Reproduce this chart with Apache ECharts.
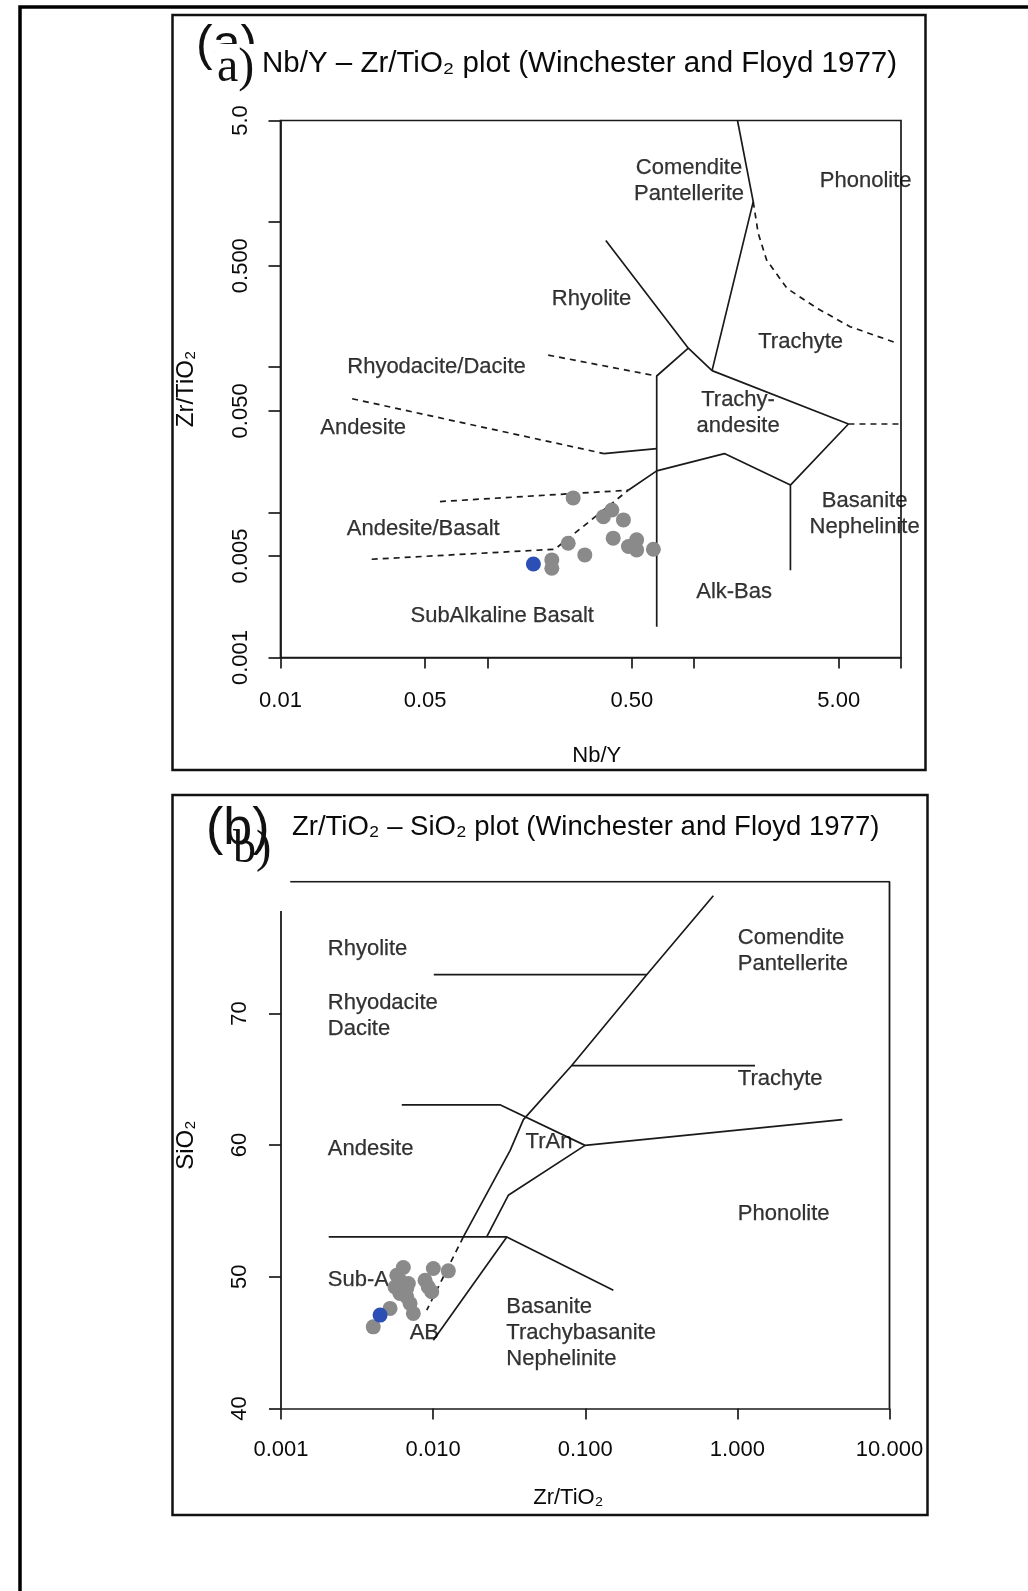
<!DOCTYPE html>
<html><head><meta charset="utf-8">
<script src="https://cdn.jsdelivr.net/npm/echarts@6/dist/echarts.min.js"></script>
<style>html,body{margin:0;padding:0;background:#fff}#c{width:1028px;height:1591px}</style>
</head><body><div id="c"></div><script>
// ---------- Panel (a): Nb/Y vs Zr/TiO2 ----------
const aSampleNbY  = [0.260, 0.364, 0.400, 0.455, 0.406, 0.481, 0.527, 0.527, 0.635, 0.246, 0.296, 0.205, 0.205];
const aSampleZrTi = [0.01257, 0.00933, 0.01038, 0.00887, 0.00664, 0.00581, 0.00646, 0.00551, 0.00557, 0.00613, 0.00509, 0.00470, 0.00412];
const aHighlightNbY  = [0.167];
const aHighlightZrTi = [0.00441];

const aSolidLines = [
  [[1.62, 5], [1.93, 1.38], [1.22, 0.0946]],
  [[0.374, 0.746], [0.937, 0.135], [1.22, 0.0946]],
  [[1.22, 0.0946], [5.57, 0.0406], [2.92, 0.0154], [2.92, 0.00399]],
  [[0.937, 0.135], [0.659, 0.0869], [0.659, 0.00163]],
  [[0.480, 0.0142], [0.659, 0.0193], [1.40, 0.0254], [2.92, 0.0154]],
  [[0.366, 0.0254], [0.659, 0.0275]]
];
const aDashedLines = [
  [[1.93, 1.38], [2.04, 0.836], [2.24, 0.547], [2.81, 0.349], [3.92, 0.255], [5.67, 0.190], [9.36, 0.148]],
  [[5.57, 0.0406], [10, 0.0406]],
  [[0.197, 0.121], [0.659, 0.0869]],
  [[0.0222, 0.0606], [0.366, 0.0254]],
  [[0.0590, 0.01186], [0.480, 0.0142]],
  [[0.0276, 0.00475], [0.212, 0.00557], [0.480, 0.0142]]
];
const aFieldLabels = [
  ['Comendite\nPantellerite', 0.944, 1.93],
  ['Phonolite', 6.75, 1.93],
  ['Rhyolite', 0.319, 0.293],
  ['Trachyte', 3.27, 0.149],
  ['Rhyodacite/Dacite', 0.0568, 0.0997],
  ['Andesite', 0.0251, 0.0380],
  ['Trachy-\nandesite', 1.63, 0.0484],
  ['Basanite\nNephelinite', 6.67, 0.00968],
  ['Andesite/Basalt', 0.0490, 0.00773],
  ['Alk-Bas', 1.56, 0.00285],
  ['SubAlkaline Basalt', 0.118, 0.00193]
];
const aXTickValues  = [0.01, 0.05, 0.1, 0.5, 1, 5, 10];
const aXLabelValues = [0.01, 0.05, 0.5, 5];
const aXLabelText   = ['0.01', '0.05', '0.50', '5.00'];
const aYTickValues  = [0.001, 0.005, 0.01, 0.05, 0.1, 0.5, 1, 5];
const aYLabelValues = [0.001, 0.005, 0.05, 0.5, 5];
const aYLabelText   = ['0.001', '0.005', '0.050', '0.500', '5.0'];

// ---------- Panel (b): Zr/TiO2 vs SiO2 ----------
const bSampleZrTi = [0.00637, 0.00577, 0.00605, 0.00687, 0.00562, 0.00670, 0.00605, 0.00670, 0.00705, 0.00741, 0.00521, 0.00404, 0.01003, 0.01259, 0.00885, 0.00929, 0.00979];
const bSampleSiO2 = [50.71, 50.12, 49.74, 49.49, 49.23, 49.11, 48.73, 48.48, 47.98, 47.22, 47.60, 46.20, 50.63, 50.45, 49.74, 49.23, 48.86];
const bHighlightZrTi = [0.00448];
const bHighlightSiO2 = [47.09];

const bSolidLines = [
  [[0.695, 78.93], [0.2535, 72.94], [0.0815, 66.04], [0.0392, 61.93], [0.0321, 59.60], [0.0158, 53.03]],
  [[0.0101, 72.94], [0.2535, 72.94]],
  [[0.0815, 66.04], [1.306, 66.04]],
  [[0.00622, 63.06], [0.0275, 63.06], [0.0997, 59.98], [4.90, 61.93]],
  [[0.0997, 59.98], [0.0312, 56.19], [0.0225, 53.03]],
  [[0.00206, 53.03], [0.0305, 53.03], [0.153, 48.98]],
  [[0.0305, 53.03], [0.01003, 45.19]]
];
const bDashedLines = [
  [[0.0158, 53.03], [0.00908, 47.47]]
];
const bFrameLines = [
  [[0.00115, 80], [10, 80], [10, 40]],
  [[0.001, 40], [0.001, 77.77]]
];
const bFieldLabels = [
  ['Rhyolite', 0.00203, 74.93, 'left'],
  ['Rhyodacite\nDacite', 0.00203, 69.77, 'left'],
  ['Andesite', 0.00203, 59.69, 'left'],
  ['Sub-A', 0.00203, 49.77, 'left'],
  ['Comendite\nPantellerite', 1.007, 74.78, 'left'],
  ['Trachyte', 1.007, 65.0, 'left'],
  ['Phonolite', 1.007, 54.77, 'left'],
  ['Basanite\nTrachybasanite\nNephelinite', 0.0303, 45.77, 'left'],
  ['AB', 0.00875, 45.77, 'center'],
  ['TrAn', 0.0578, 60.24, 'center']
];
const bXTickValues = [0.001, 0.01, 0.1, 1, 10];
const bXLabelText  = ['0.001', '0.010', '0.100', '1.000', '10.000'];
const bYTickValues = [40, 50, 60, 70];
const bYLabelText  = ['40', '50', '60', '70'];

// ---------- build ----------
const L = Math.log10;
const FONT = '"Liberation Sans", Arial, Helvetica, sans-serif';
const INK = '#1a1a1a';
const TXT = '#0a0a0a';

function fmtLog(values, texts) {
  return v => { const i = values.findIndex(t => Math.abs(L(t) - v) < 1e-6); return i >= 0 ? texts[i] : ''; };
}
function fmtLin(values, texts) {
  return v => { const i = values.findIndex(t => Math.abs(t - v) < 1e-6); return i >= 0 ? texts[i] : ''; };
}
function tr(p, logY) { return [L(p[0]), logY ? L(p[1]) : p[1]]; }
function lineSeries(pts, idx, dashed, logY, w) {
  return { type: 'line', xAxisIndex: idx, yAxisIndex: idx, data: pts.map(p => tr(p, logY)),
    symbol: 'none', silent: true, z: 2,
    lineStyle: { color: INK, width: w || 1.7, type: dashed ? [6, 5] : 'solid' } };
}
function labelSeries(items, idx, logY) {
  return { type: 'scatter', xAxisIndex: idx, yAxisIndex: idx, symbolSize: 0, silent: true, z: 3,
    itemStyle: { color: 'transparent' },
    data: items.map(it => ({ value: tr([it[1], it[2]], logY), name: it[0],
      label: { position: it[3] === 'left' ? 'right' : 'inside', distance: 0 } })),
    label: { show: true, formatter: p => p.name, color: '#000', fontSize: 22, fontFamily: FONT, lineHeight: 26,
      textBorderColor: '#000', textBorderWidth: 0.25 } };
}
function pointSeries(xs, ys, idx, logY, color, z) {
  return { type: 'scatter', xAxisIndex: idx, yAxisIndex: idx, symbolSize: 15, silent: true, z: z,
    itemStyle: { color: color, opacity: 1 }, data: xs.map((x, i) => tr([x, ys[i]], logY)) };
}
const tickStyle = { color: INK, width: 1.7 };
const labelStyle = { fontSize: 22, color: TXT, fontFamily: FONT };

const series = [];
aSolidLines.forEach(l => series.push(lineSeries(l, 0, false, true)));
aDashedLines.forEach(l => series.push(lineSeries(l, 0, true, true)));
series.push(labelSeries(aFieldLabels, 0, true));
series.push(pointSeries(aSampleNbY, aSampleZrTi, 0, true, '#8a8a8a', 4));
series.push(pointSeries(aHighlightNbY, aHighlightZrTi, 0, true, '#2b4fb5', 5));
bFrameLines.forEach(l => series.push(lineSeries(l, 1, false, false, 1.8)));
bSolidLines.forEach(l => series.push(lineSeries(l, 1, false, false)));
bDashedLines.forEach(l => series.push(lineSeries(l, 1, true, false)));
series.push(labelSeries(bFieldLabels, 1, false));
series.push(pointSeries(bSampleZrTi, bSampleSiO2, 1, false, '#8a8a8a', 4));
series.push(pointSeries(bHighlightZrTi, bHighlightSiO2, 1, false, '#2b4fb5', 5));

const option = {
  animation: false,
  backgroundColor: '#fff',
  grid: [
    { left: 280.5, top: 120.5, width: 620.5, height: 537, show: true, borderColor: INK, borderWidth: 1.7, backgroundColor: 'transparent', outerBoundsMode: 'none' },
    { left: 281, top: 881.7, width: 608.5, height: 526.8, show: false, outerBoundsMode: 'none' }
  ],
  xAxis: [
    { gridIndex: 0, type: 'value', min: -2, max: 1,
      axisLine: { show: true, onZero: false, lineStyle: tickStyle },
      axisTick: { show: true, customValues: aXTickValues.map(L), length: 11, lineStyle: tickStyle },
      axisLabel: Object.assign({ show: true, customValues: aXLabelValues.map(L), formatter: fmtLog(aXLabelValues, aXLabelText), margin: 32 }, labelStyle),
      splitLine: { show: false },
      name: 'Nb/Y', nameLocation: 'middle', nameGap: 87,
      nameTextStyle: { fontSize: 22, color: TXT, fontFamily: FONT, padding: [0, 0, 0, 12] } },
    { gridIndex: 1, type: 'value', min: -3, max: 1,
      axisLine: { show: true, onZero: false, lineStyle: tickStyle },
      axisTick: { show: true, customValues: bXTickValues.map(L), length: 11, lineStyle: tickStyle },
      axisLabel: Object.assign({ show: true, customValues: bXTickValues.map(L), formatter: fmtLog(bXTickValues, bXLabelText), margin: 30 }, labelStyle),
      splitLine: { show: false },
      name: 'Zr/TiO₂', nameLocation: 'middle', nameGap: 78,
      nameTextStyle: { fontSize: 22, color: TXT, fontFamily: FONT, padding: [0, 34, 0, 0] } }
  ],
  yAxis: [
    { gridIndex: 0, type: 'value', min: -3, max: L(5),
      axisLine: { show: true, onZero: false, lineStyle: tickStyle },
      axisTick: { show: true, customValues: aYTickValues.map(L), length: 12, lineStyle: tickStyle },
      axisLabel: Object.assign({ show: true, customValues: aYLabelValues.map(L), formatter: fmtLog(aYLabelValues, aYLabelText), rotate: 90, margin: 29 }, labelStyle),
      splitLine: { show: false },
      name: 'Zr/TiO₂', nameLocation: 'middle', nameGap: 82,
      nameTextStyle: { fontSize: 24, color: TXT, fontFamily: FONT } },
    { gridIndex: 1, type: 'value', min: 40, max: 80,
      axisLine: { show: false, onZero: false },
      axisTick: { show: true, customValues: bYTickValues, length: 12, lineStyle: tickStyle },
      axisLabel: Object.assign({ show: true, customValues: bYTickValues, formatter: fmtLin(bYTickValues, bYLabelText), rotate: 90, margin: 30 }, labelStyle),
      splitLine: { show: false },
      name: 'SiO₂', nameLocation: 'middle', nameGap: 83,
      nameTextStyle: { fontSize: 24, color: TXT, fontFamily: FONT } }
  ],
  graphic: [
    { type: 'rect', silent: true, z: 100, shape: { x: 20, y: 7, width: 1200, height: 1800 }, style: { fill: 'none', stroke: '#000', lineWidth: 3.5 } },
    { type: 'rect', silent: true, z: 100, shape: { x: 172.5, y: 15, width: 753, height: 755 }, style: { fill: 'none', stroke: '#111', lineWidth: 2.5 } },
    { type: 'rect', silent: true, z: 100, shape: { x: 172.5, y: 795, width: 755, height: 720 }, style: { fill: 'none', stroke: '#111', lineWidth: 2.5 } },
    { type: 'text', silent: true, z: 100, x: 262, y: 64, style: { text: 'Nb/Y – Zr/TiO₂ plot (Winchester and Floyd 1977)', font: '29.5px ' + FONT, fill: TXT, verticalAlign: 'middle', align: 'left' } },
    { type: 'text', silent: true, z: 100, x: 292, y: 827, style: { text: 'Zr/TiO₂ – SiO₂ plot (Winchester and Floyd 1977)', font: '27.5px ' + FONT, fill: TXT, verticalAlign: 'middle', align: 'left' } },
    { type: 'text', silent: true, z: 100, x: 196, y: 46, style: { text: '(a)', font: '50px ' + FONT, fill: '#111', verticalAlign: 'middle', align: 'left' } },
    { type: 'text', silent: true, z: 101, x: 215, y: 68, style: { text: 'a)', font: '48px "Liberation Serif", "Times New Roman", serif', fill: '#111', verticalAlign: 'middle', align: 'left', backgroundColor: '#fff', padding: [0, 1, 0, 2] } },
    { type: 'text', silent: true, z: 100, x: 206, y: 830, style: { text: '(b)', font: '52px ' + FONT, fill: '#111', verticalAlign: 'middle', align: 'left' } },
    { type: 'text', silent: true, z: 101, x: 233, y: 850, style: { text: 'b)', font: '46px "Liberation Serif", "Times New Roman", serif', fill: '#111', verticalAlign: 'middle', align: 'left' } }
  ],
  series: series
};
const chart = echarts.init(document.getElementById('c'), null, { width: 1028, height: 1591 });
chart.setOption(option);
</script></body></html>
